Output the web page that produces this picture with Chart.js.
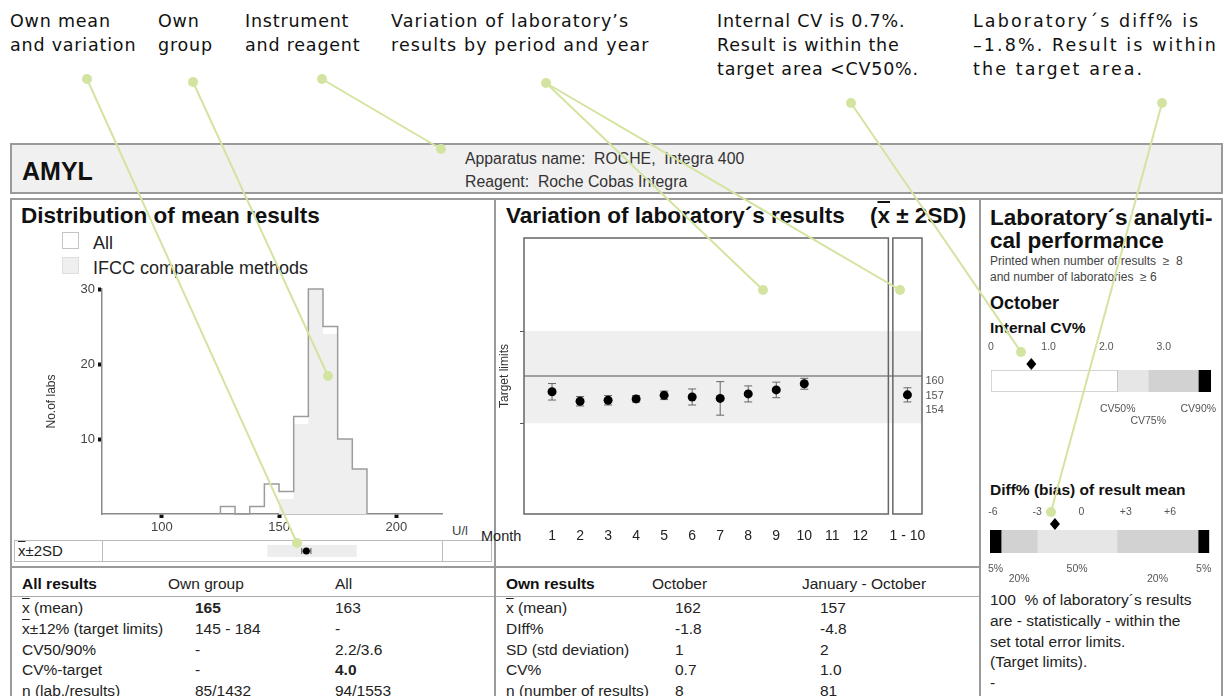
<!DOCTYPE html>
<html>
<head>
<meta charset="utf-8">
<script src="https://cdn.jsdelivr.net/npm/chart.js@4.4.1/dist/chart.umd.min.js"></script>
<style>
  body { margin: 0; background: #fff; }
  #page { position: relative; width: 1226px; height: 696px; overflow: hidden;
          font-family: 'Liberation Sans', Arial, sans-serif; color: #111; background: #fff; }
  .t { position: absolute; white-space: nowrap; line-height: 1; }
  .b { font-weight: bold; }
  .ann { position: absolute; white-space: nowrap; font-family: 'DejaVu Sans', sans-serif;
         font-size: 17.5px; line-height: 24px; color: #111; letter-spacing: 0.8px; }
  .box { position: absolute; box-sizing: border-box; }
  canvas { position: absolute; }
  .ov { text-decoration: overline; }
</style>
</head>
<body>
<div id="page">
  <!-- frames -->
  <div class="box" style="left:10px;top:143px;width:1213px;height:51px;background:#f0f0f0;border:2px solid #9a9a9a;"></div>
  <div class="box" style="left:10px;top:198px;width:1213px;height:520px;border:2px solid #9a9a9a;"></div>
  <div class="box" style="left:494px;top:198px;width:2px;height:520px;background:#9a9a9a;"></div>
  <div class="box" style="left:979px;top:198px;width:2px;height:520px;background:#9a9a9a;"></div>
  <div class="box" style="left:10px;top:566px;width:970px;height:2px;background:#9a9a9a;"></div>
  <div class="box" style="left:12px;top:596px;width:482px;height:1px;background:#aaa;"></div>
  <div class="box" style="left:496px;top:596px;width:483px;height:1px;background:#aaa;"></div>
  <!-- x̄±2SD strip cells -->
  <div class="box" style="left:14px;top:540px;width:478px;height:22px;border:1px solid #bbb;"></div>
  <div class="box" style="left:102px;top:540px;width:1px;height:22px;background:#bbb;"></div>
  <div class="box" style="left:442px;top:540px;width:1px;height:22px;background:#bbb;"></div>

  <!-- header -->
  <div class="t b" style="left:22px;top:159px;font-size:25px;">AMYL</div>
  <div class="t" style="left:465px;top:151px;font-size:15.8px;color:#333;">Apparatus name:&nbsp; ROCHE,&nbsp; Integra 400</div>
  <div class="t" style="left:465px;top:174px;font-size:15.8px;color:#333;">Reagent:&nbsp; Roche Cobas Integra</div>

  <!-- left panel -->
  <div class="t b" style="left:21px;top:205px;font-size:22.5px;">Distribution of mean results</div>
  <div class="box" style="left:62px;top:232px;width:17px;height:17px;border:1px solid #c4c4c4;background:#fff;"></div>
  <div class="box" style="left:62px;top:257px;width:17px;height:17px;border:1px solid #dedede;background:#efefef;"></div>
  <div class="t" style="left:93px;top:234px;font-size:18px;color:#222;">All</div>
  <div class="t" style="left:93px;top:259px;font-size:18px;color:#222;">IFCC comparable methods</div>
  <div class="t" style="left:452px;top:524px;font-size:13px;color:#444;">U/l</div>
  <div class="t" style="left:18px;top:543px;font-size:15px;color:#222;"><span class="ov">x</span>±2SD</div>

  <!-- middle panel -->
  <div class="t b" style="left:506px;top:205px;font-size:22.5px;">Variation of laboratory´s results</div>
  <div class="t b" style="left:870px;top:205px;font-size:22.5px;">(<span class="ov">x</span> ± 2SD)</div>
  <div class="t" style="left:481px;top:529px;font-size:14.5px;color:#222;">Month</div>

  <!-- right panel -->
  <div class="t b" style="left:990px;top:207px;font-size:22.5px;">Laboratory´s analyti-</div>
  <div class="t b" style="left:990px;top:230px;font-size:22.5px;">cal performance</div>
  <div class="t" style="left:990px;top:255px;font-size:12px;color:#444;">Printed when number of results&nbsp; ≥&nbsp; 8</div>
  <div class="t" style="left:990px;top:271px;font-size:12px;color:#444;">and number of laboratories&nbsp; ≥ 6</div>
  <div class="t b" style="left:990px;top:294px;font-size:18px;">October</div>
  <div class="t b" style="left:990px;top:320px;font-size:15.5px;">Internal CV%</div>
  <div class="t b" style="left:990px;top:482px;font-size:15.5px;">Diff% (bias) of result mean</div>
  <div class="t" style="left:990px;top:592px;font-size:15.5px;color:#222;">100&nbsp; % of laboratory´s results</div>
  <div class="t" style="left:990px;top:613px;font-size:15.5px;color:#222;">are - statistically - within the</div>
  <div class="t" style="left:990px;top:634px;font-size:15.5px;color:#222;">set total error limits.</div>
  <div class="t" style="left:990px;top:654px;font-size:15.5px;color:#222;">(Target limits).</div>
  <div class="t" style="left:990px;top:675px;font-size:15.5px;color:#222;">-</div>

  <!-- tables -->
  <div id="tables"></div>

  <!-- charts -->
  <canvas id="histChart" width="420" height="262" style="left:40px;top:280px;"></canvas>
  <canvas id="stripChart" width="340" height="20" style="left:102px;top:541px;"></canvas>
  <canvas id="monthChart" width="480" height="325" style="left:497px;top:225px;"></canvas>
  <canvas id="cvChart" width="237" height="90" style="left:985px;top:338px;"></canvas>
  <canvas id="diffChart" width="237" height="90" style="left:985px;top:500px;"></canvas>

  <!-- annotations -->
  <div class="ann" style="left:10px;top:9px;">Own mean<br>and variation</div>
  <div class="ann" style="left:158px;top:9px;">Own<br>group</div>
  <div class="ann" style="left:245px;top:9px;">Instrument<br>and reagent</div>
  <div class="ann" style="left:391px;top:9px;letter-spacing:1.1px;">Variation of laboratory’s<br>results by period and year</div>
  <div class="ann" style="left:717px;top:9px;">Internal CV is 0.7%.<br>Result is within the<br>target area &lt;CV50%.</div>
  <div class="ann" style="left:973px;top:9px;letter-spacing:2.1px;">Laboratory´s diff% is<br>–1.8%. Result is within<br>the target area.</div>
  <svg width="1226" height="696" style="position:absolute;left:0;top:0;pointer-events:none;">
    <g stroke="#d3e4a0" stroke-width="2" fill="none">
      <line x1="87" y1="79" x2="297" y2="543"/>
      <line x1="193" y1="82" x2="328" y2="376"/>
      <line x1="322" y1="79" x2="441" y2="149"/>
      <line x1="546" y1="83" x2="763" y2="290"/>
      <line x1="546" y1="83" x2="900" y2="290"/>
      <line x1="851" y1="103" x2="1021" y2="352"/>
      <line x1="1162" y1="103" x2="1051" y2="512"/>
    </g>
    <g fill="#d3e4a0">
      <circle cx="87" cy="79" r="5"/><circle cx="297" cy="543" r="5"/>
      <circle cx="193" cy="82" r="5"/><circle cx="328" cy="376" r="5"/>
      <circle cx="322" cy="79" r="5"/><circle cx="441" cy="149" r="5"/>
      <circle cx="546" cy="83" r="5"/><circle cx="763" cy="290" r="5"/><circle cx="900" cy="290" r="5"/>
      <circle cx="851" cy="103" r="5"/><circle cx="1021" cy="352" r="5"/>
      <circle cx="1162" cy="103" r="5"/><circle cx="1051" cy="512" r="5"/>
    </g>
  </svg>
</div>

<script>
// histogram of lab means (U/l)
const binEdges = [125, 131.25, 137.5, 143.75, 150, 156.25, 162.5, 168.75, 175, 181.25, 187.5];
const allCounts = [1, 0, 1, 4, 3, 13, 30, 25, 10, 6];
const ifccCounts = [0, 0, 0, 0, 2, 12, 30, 24, 10, 6];
const histXTicks = [100, 150, 200];
const histYTicks = [10, 20, 30];

// own group / own lab
const targetLow = 145;
const targetHigh = 184;
const groupMean = 165;
const ownMean = 162;
const ownTwoSD = 2;

// monthly variation (mean ± 2SD)
const monthLabels = ['1', '2', '3', '4', '5', '6', '7', '8', '9', '10', '11', '12'];
const months = [1, 2, 3, 4, 5, 6, 7, 8, 9, 10];
const monthMeans = [158.3, 154.3, 154.7, 155.3, 156.8, 156.1, 155.5, 157.4, 159.1, 161.7];
const monthTwoSD = [3.5, 2, 2, 1.4, 1.8, 3.4, 7.1, 3.4, 3.3, 2.3];
const periodLabel = '1 - 10';
const periodMean = 157;
const periodTwoSD = 3;

// internal CV%
const cvTicks = [0, 1, 2, 3];
const cvBands = [[0, 2.2], [2.2, 2.73], [2.73, 3.6], [3.6, 3.82]];
const cvPercentiles = [2.2, 2.73, 3.6];
const cvPercentileLabels = ['CV50%', 'CV75%', 'CV90%'];
const labCV = 0.7;

// diff% (bias)
const diffTicks = [-6, -3, 0, 3, 6];
const diffBands = [[-6.2, -5.45], [-5.45, -3], [-3, 2.4], [2.4, 7.9], [7.9, 8.66]];
const diffBandLabels = ['5%', '20%', '50%', '20%', '5%'];
const labDiff = -1.8;

// tables
const allRows = [
  ['<span class="ov">x</span> (mean)', '<b>165</b>', '163'],
  ['<span class="ov">x</span>±12% (target limits)', '145 - 184', '-'],
  ['CV50/90%', '-', '2.2/3.6'],
  ['CV%-target', '-', '<b>4.0</b>'],
  ['n (lab./results)', '85/1432', '94/1553']
];
const ownRows = [
  ['<span class="ov">x</span> (mean)', '162', '157'],
  ['DIff%', '-1.8', '-4.8'],
  ['SD (std deviation)', '1', '2'],
  ['CV%', '0.7', '1.0'],
  ['n (number of results)', '8', '81']
];

Chart.defaults.font.family = "'Liberation Sans', Arial, sans-serif";
Chart.defaults.animation = false;
Chart.defaults.responsive = false;
Chart.defaults.devicePixelRatio = 1;
Chart.defaults.plugins.legend.display = false;
Chart.defaults.plugins.tooltip.enabled = false;

// tables as text
(function () {
  const host = document.getElementById('tables');
  let html = '';
  const put = (x, y, s, extra) => {
    html += '<div class="t" style="left:' + x + 'px;top:' + y + 'px;font-size:15.5px;color:#222;' + (extra || '') + '">' + s + '</div>';
  };
  put(22, 576, 'All results', 'font-weight:bold;color:#111;');
  put(168, 576, 'Own group');
  put(335, 576, 'All');
  put(506, 576, 'Own results', 'font-weight:bold;color:#111;');
  put(652, 576, 'October');
  put(802, 576, 'January - October');
  const rowTop = [600, 621, 642, 662, 683];
  allRows.forEach((r, i) => { put(22, rowTop[i], r[0]); put(195, rowTop[i], r[1]); put(335, rowTop[i], r[2]); });
  ownRows.forEach((r, i) => { put(506, rowTop[i], r[0]); put(675, rowTop[i], r[1]); put(820, rowTop[i], r[2]); });
  host.innerHTML = html;
})();

// outline points for a step histogram
function stepPoints(edges, counts) {
  const pts = [{ x: edges[0], y: 0 }];
  counts.forEach((c, i) => pts.push({ x: edges[i + 1], y: c }));
  pts.push({ x: edges[edges.length - 1], y: 0 });
  return pts;
}

// error bars drawn under the points, horizontal or vertical
const errorBars = {
  id: 'errorBars',
  beforeDatasetsDraw(chart, args, opts) {
    const ctx = chart.ctx;
    const xs = chart.scales.x, ys = chart.scales.y;
    ctx.save();
    ctx.strokeStyle = opts.color || '#666';
    ctx.lineWidth = 1;
    chart.data.datasets.forEach(ds => {
      if (!ds.errors) return;
      ds.data.forEach((p, j) => {
        const e = ds.errors[j];
        const cap = opts.cap || 4;
        ctx.beginPath();
        if (opts.horizontal) {
          const y = ys.getPixelForValue(p.y);
          const x1 = xs.getPixelForValue(p.x - e), x2 = xs.getPixelForValue(p.x + e);
          ctx.moveTo(x1, y); ctx.lineTo(x2, y);
          ctx.moveTo(x1, y - cap); ctx.lineTo(x1, y + cap);
          ctx.moveTo(x2, y - cap); ctx.lineTo(x2, y + cap);
        } else {
          const x = xs.getPixelForValue(p.x);
          const y1 = ys.getPixelForValue(p.y + e), y2 = ys.getPixelForValue(p.y - e);
          ctx.moveTo(x, y1); ctx.lineTo(x, y2);
          ctx.moveTo(x - cap, y1); ctx.lineTo(x + cap, y1);
          ctx.moveTo(x - cap, y2); ctx.lineTo(x + cap, y2);
        }
        ctx.stroke();
      });
    });
    ctx.restore();
  }
};

// histogram
new Chart(document.getElementById('histChart'), {
  type: 'scatter',
  data: {
    datasets: [{
      label: 'All',
      data: stepPoints(binEdges, allCounts),
      showLine: true, stepped: 'after', fill: false,
      borderColor: '#9c9c9c', borderWidth: 1.5, pointRadius: 0, order: 1
    }, {
      label: 'IFCC comparable methods',
      data: stepPoints(binEdges, ifccCounts),
      showLine: true, stepped: 'after', fill: 'origin',
      backgroundColor: '#efefef', borderWidth: 0, pointRadius: 0, order: 2
    }]
  },
  options: {
    clip: false,
    layout: { padding: { top: 9, right: 18, left: 0, bottom: 0 } },
    scales: {
      x: {
        type: 'linear', min: 74.5, max: 219.5,
        afterFit: s => { s.height = 28; s.paddingLeft = 0; s.paddingRight = 0; },
        afterBuildTicks: s => { s.ticks = histXTicks.map(v => ({ value: v })); },
        ticks: { font: { size: 13 }, color: '#444', padding: 2 },
        grid: { drawOnChartArea: false, tickLength: 4, tickWidth: 4, tickColor: '#111' },
        border: { color: '#8a8a8a', width: 1.5 }
      },
      y: {
        min: 0, max: 30,
        afterFit: s => { s.width = 62; s.paddingTop = 0; s.paddingBottom = 0; },
        afterBuildTicks: s => { s.ticks = histYTicks.map(v => ({ value: v })); },
        ticks: { font: { size: 13 }, color: '#444', padding: 3 },
        grid: { drawOnChartArea: false, tickLength: 4, tickWidth: 4, tickColor: '#111' },
        border: { color: '#8a8a8a', width: 1.5 },
        title: { display: true, text: 'No.of labs', font: { size: 12 }, color: '#333' }
      }
    }
  }
});

// own mean ±2SD against the target limits
new Chart(document.getElementById('stripChart'), {
  type: 'scatter',
  data: {
    datasets: [{
      data: [{ x: ownMean, y: 0.5 }], errors: [ownTwoSD],
      pointRadius: 3.5, backgroundColor: '#000', borderWidth: 0
    }]
  },
  options: {
    layout: { padding: 0 },
    scales: {
      x: { type: 'linear', min: 74.5, max: 219.5, display: false },
      y: { min: 0, max: 1, display: false }
    },
    plugins: { errorBars: { horizontal: true, cap: 3, color: '#555' } }
  },
  plugins: [{
    id: 'targetBand',
    beforeDatasetsDraw(chart) {
      const { ctx, chartArea: a, scales: { x } } = chart;
      const x1 = x.getPixelForValue(targetLow), x2 = x.getPixelForValue(targetHigh);
      ctx.save();
      ctx.fillStyle = '#ededed';
      ctx.fillRect(x1, a.top, x2 - x1, a.bottom - a.top);
      ctx.restore();
    }
  }, errorBars]
});

// monthly variation
const periodX = 13.68;
new Chart(document.getElementById('monthChart'), {
  type: 'scatter',
  data: {
    datasets: [{
      data: months.map((m, i) => ({ x: m, y: monthMeans[i] })).concat([{ x: periodX, y: periodMean }]),
      errors: monthTwoSD.concat([periodTwoSD]),
      pointRadius: 4.5, backgroundColor: '#000', borderWidth: 0
    }]
  },
  options: {
    layout: { padding: { top: 13, right: 55, left: 0, bottom: 0 } },
    scales: {
      x: {
        type: 'linear', min: 0, max: 14.2,
        afterFit: s => { s.height = 36; s.paddingLeft = 0; s.paddingRight = 0; },
        afterBuildTicks: s => {
          s.ticks = monthLabels.map((l, i) => ({ value: i + 1 })).concat([{ value: periodX }]);
        },
        ticks: {
          autoSkip: false, maxRotation: 0, padding: 14,
          font: { size: 14 }, color: '#222',
          callback: v => (v === periodX ? periodLabel : monthLabels[v - 1])
        },
        grid: { display: false, drawTicks: false },
        border: { display: false }
      },
      y: {
        min: groupMean - 58.5, max: groupMean + 58.5,
        afterFit: s => { s.width = 27; },
        afterBuildTicks: s => { s.ticks = [targetLow, targetHigh].map(v => ({ value: v })); },
        ticks: { display: false },
        grid: { drawOnChartArea: false, tickLength: 4, tickColor: '#555' },
        border: { display: false },
        title: { display: true, text: 'Target limits', font: { size: 12 }, color: '#333', padding: { top: 0, bottom: 2 } }
      }
    },
    plugins: { errorBars: { cap: 4, color: '#666' } }
  },
  plugins: [{
    id: 'targetArea',
    beforeDatasetsDraw(chart) {
      const { ctx, chartArea: a, scales: { x, y } } = chart;
      const yHi = y.getPixelForValue(targetHigh), yLo = y.getPixelForValue(targetLow);
      const yMid = y.getPixelForValue(groupMean);
      ctx.save();
      ctx.fillStyle = '#efefef';
      ctx.fillRect(a.left, yHi, a.right - a.left, yLo - yHi);
      ctx.strokeStyle = '#555';
      ctx.lineWidth = 1.2;
      ctx.beginPath();
      ctx.moveTo(a.left, yMid); ctx.lineTo(a.right, yMid);
      ctx.stroke();
      ctx.lineWidth = 1.5;
      ctx.strokeStyle = '#666';
      const x13 = x.getPixelForValue(13), x2 = x.getPixelForValue(13.16);
      ctx.strokeRect(a.left, a.top, x13 - a.left, a.bottom - a.top);
      ctx.strokeRect(x2, a.top, a.right - x2, a.bottom - a.top);
      ctx.restore();
    },
    afterDatasetsDraw(chart) {
      const { ctx, scales: { x, y } } = chart;
      const px = x.getPixelForValue(periodX) + 18, py = y.getPixelForValue(periodMean);
      const vals = [periodMean + periodTwoSD, periodMean, periodMean - periodTwoSD];
      ctx.save();
      ctx.fillStyle = '#555';
      ctx.font = "11px 'Liberation Sans', Arial, sans-serif";
      ctx.textBaseline = 'middle';
      vals.forEach((v, i) => ctx.fillText(String(v), px, py + (i - 1) * 14.3 + 0.7));
      ctx.restore();
    }
  }, errorBars]
});

// shared: diamond marker and labels under the performance bars
function markerPlugin(value, labels, rows) {
  return {
    id: 'marker',
    afterDatasetsDraw(chart) {
      const { ctx, chartArea: a, scales: { x } } = chart;
      const mx = x.getPixelForValue(value), my = a.top - 6;
      ctx.save();
      ctx.fillStyle = '#000';
      ctx.beginPath();
      ctx.moveTo(mx, my - 6); ctx.lineTo(mx + 5, my); ctx.lineTo(mx, my + 6); ctx.lineTo(mx - 5, my);
      ctx.closePath(); ctx.fill();
      ctx.fillStyle = '#555';
      ctx.font = "10.5px 'Liberation Sans', Arial, sans-serif";
      ctx.textAlign = 'center';
      ctx.textBaseline = 'middle';
      labels.forEach(l => ctx.fillText(l.text, x.getPixelForValue(l.value), a.bottom + rows[l.row]));
      ctx.restore();
    }
  };
}

function perfBar(id, bands, colors, xmin, xmax, ticks, tickFmt, pad, value, labels, rows) {
  new Chart(document.getElementById(id), {
    type: 'bar',
    data: {
      labels: [''],
      datasets: bands.map((b, i) => ({
        data: [b], backgroundColor: colors[i], grouped: false,
        barPercentage: 1, categoryPercentage: 1,
        borderWidth: colors[i] === '#ffffff' ? 1 : 0, borderColor: '#c4c4c4', borderSkipped: false
      }))
    },
    options: {
      indexAxis: 'y',
      layout: { padding: { left: pad.left, right: pad.right, top: 0, bottom: pad.bottom } },
      scales: {
        x: {
          type: 'linear', position: 'top', min: xmin, max: xmax,
          afterFit: s => { s.height = pad.axis; s.paddingLeft = 0; s.paddingRight = 0; },
          afterBuildTicks: s => { s.ticks = ticks.map(v => ({ value: v })); },
          ticks: { font: { size: 10.5 }, color: '#555', padding: pad.tickPad, callback: tickFmt },
          grid: { display: false, drawTicks: false },
          border: { display: false }
        },
        y: { display: false }
      }
    },
    plugins: [markerPlugin(value, labels, rows)]
  });
}

perfBar('cvChart', cvBands, ['#ffffff', '#e6e6e6', '#d2d2d2', '#000000'], 0, 3.82, cvTicks,
  v => (v === 0 ? '0' : v.toFixed(1)),
  { left: 6, right: 11, bottom: 36, axis: 32, tickPad: 17 },
  labCV,
  cvPercentiles.map((v, i) => ({ value: v, text: cvPercentileLabels[i], row: i === 1 ? 1 : 0 })),
  [17.5, 29]);

perfBar('diffChart', diffBands, ['#000000', '#d2d2d2', '#e6e6e6', '#d2d2d2', '#000000'], -6.2, 8.66, diffTicks,
  v => (v > 0 ? '+' + v : String(v)),
  { left: 5, right: 12.7, bottom: 37, axis: 30, tickPad: 12 },
  labDiff,
  diffBands.map((b, i) => ({ value: (b[0] + b[1]) / 2, text: diffBandLabels[i], row: (i === 1 || i === 3) ? 1 : 0 })),
  [16.5, 26.5]);
</script>
</body>
</html>
